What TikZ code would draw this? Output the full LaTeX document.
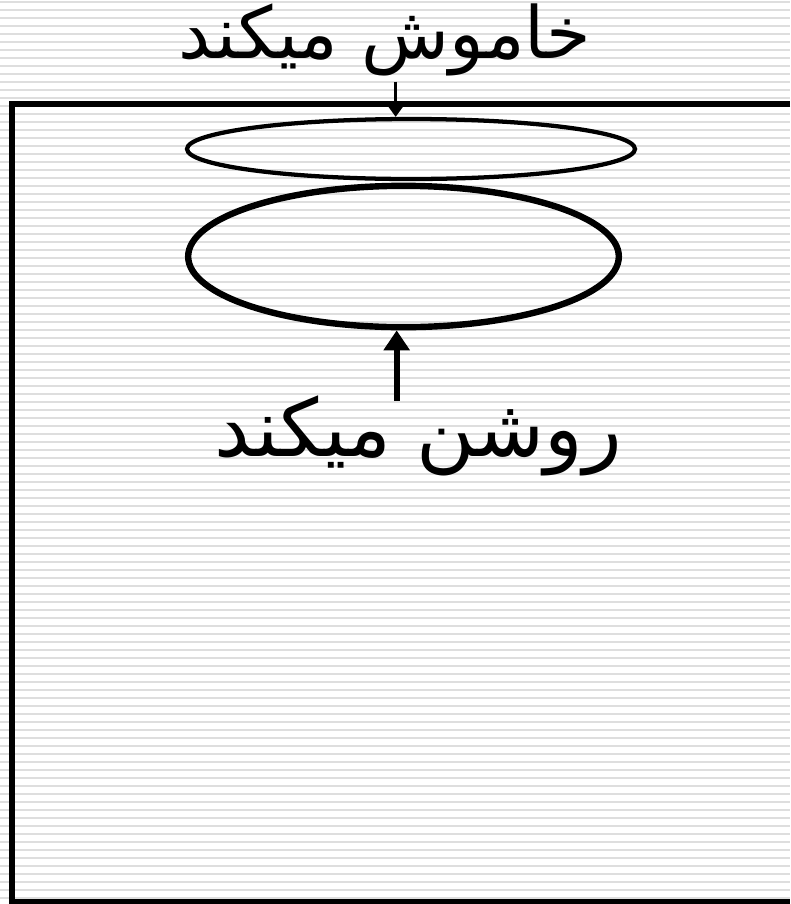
\documentclass[tikz,border=0pt]{standalone}
\usepackage{fontspec}
\newfontfamily\arabicfont[Script=Arabic]{DejaVu Sans}
\TeXXeTstate=1
\usetikzlibrary{shapes.geometric,arrows.meta}

\tikzset{
  label text/.style={font=\arabicfont\fontsize{54}{60}\selectfont,inner sep=2pt},
  lamp/.style={draw,ellipse,inner sep=0pt}
}

\begin{document}
\begin{tikzpicture}[x=0.75pt,y=-0.75pt]
\useasboundingbox (0,0) rectangle (790,904);
% ruled paper
\foreach \y in {2,10,...,902}
  \draw[black!13,line width=1.5pt] (0,\y) -- (790,\y);
% frame, open on the right
\draw[line width=3.8pt] (790,104) -- (12,104) -- (12,902) -- (790,902);

\node[lamp,line width=3.2pt,minimum width=336pt,minimum height=45pt] (lid) at (411,149) {};
\node[lamp,line width=4.8pt,minimum width=323pt,minimum height=106pt] (bulb) at (403.5,256.5) {};

\node[label text] (off) at (385,40) {\beginR خاموش میکند\endR};
\node[label text,font=\arabicfont\fontsize{60}{66}\selectfont] (on) at (418,436) {\beginR روشن میکند\endR};

\draw[line width=2.2pt,-{Triangle[length=8pt,width=11pt]}]
  ([xshift=8pt,yshift=-2pt]off.south) -- ([xshift=8pt]off.south |- lid.north);
\draw[line width=4.5pt,-{Triangle[length=15pt,width=19pt]}]
  ([xshift=-16pt,yshift=-6pt]on.north) -- ([xshift=-16pt]on.north |- bulb.south);
\end{tikzpicture}
\end{document}
